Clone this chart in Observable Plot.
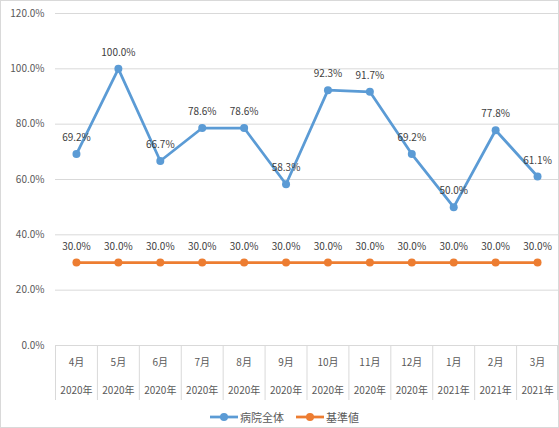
<!DOCTYPE html>
<html><head><meta charset="utf-8">
<script src="https://cdn.jsdelivr.net/npm/d3@7"></script>
<script src="https://cdn.jsdelivr.net/npm/@observablehq/plot@0.6"></script>
<style>
body{margin:0;background:#fff;}
#chart{width:559px;height:428px;box-sizing:border-box;border:1px solid #d9d9d9;font-family:"Noto Sans CJK JP","Noto Sans",sans-serif;overflow:hidden;background:#fff;}
#legend{display:flex;justify-content:center;align-items:center;height:20px;font-size:11px;color:#595959;padding-left:10px;}
.item{display:flex;align-items:center;margin:0 6px;}
.item svg{margin-right:2px;}
</style></head>
<body>
<div id="chart"></div>
<script>
const months = ["4月","5月","6月","7月","8月","9月","10月","11月","12月","1月","2月","3月"];
const years = ["2020年","2020年","2020年","2020年","2020年","2020年","2020年","2020年","2020年","2021年","2021年","2021年"];
const hospital = [69.2,100.0,66.7,78.6,78.6,58.3,92.3,91.7,69.2,50.0,77.8,61.1];
const standard = [30,30,30,30,30,30,30,30,30,30,30,30];
const yTicks = [0,20,40,60,80,100,120];
const seriesNames = ["病院全体","基準値"];
const colors = ["#5b9bd5","#ed7d31"];

const keys = months.map((m,i)=>m+"|"+years[i]);
const rows = [];
keys.forEach((k,i)=>{
  rows.push({key:k, series:seriesNames[0], value:hospital[i]});
  rows.push({key:k, series:seriesNames[1], value:standard[i]});
});
const W = 557, H = 406, ML = 54, MR = 0;
const bw = (W-ML-MR)/keys.length;
const fmt = d => d.toFixed(1)+"%";
const fontFam = '"Noto Sans CJK JP","Noto Sans",sans-serif';

const plot = Plot.plot({
  width: W, height: H,
  marginLeft: ML, marginRight: MR, marginTop: 12, marginBottom: H-344,
  style:{fontFamily:fontFam, fontSize:"10px", color:"#595959", background:"#fff"},
  x:{type:"band", domain:keys, padding:0, round:false, axis:null, label:null},
  y:{domain:[0,120], axis:null, label:null},
  color:{domain:seriesNames, range:colors},
  marks:[
    Plot.gridY(yTicks, {stroke:"#d9d9d9", strokeOpacity:1}),
    Plot.axisY(yTicks, {tickSize:0, tickPadding:11, tickFormat:fmt, fill:"#595959", fontSize:10, label:null}),
    Plot.axisX(keys, {anchor:"bottom", tickSize:55, tickFormat:()=>"", dx:-bw/2, stroke:"#d9d9d9", strokeOpacity:1, label:null}),
    Plot.axisX([keys[keys.length-1]], {anchor:"bottom", tickSize:55, tickFormat:()=>"", dx:bw/2-1, stroke:"#d9d9d9", strokeOpacity:1, label:null}),
    Plot.text(keys, {x:d=>d, y:()=>0, dy:17, text:(d,i)=>months[i], fill:"#595959", fontSize:10}),
    Plot.text(keys, {x:d=>d, y:()=>0, dy:45, text:(d,i)=>years[i], fill:"#595959", fontSize:10}),
    Plot.line(rows, {x:"key", y:"value", z:"series", stroke:"series", strokeWidth:2.75, strokeLinejoin:"round"}),
    Plot.dot(rows, {x:"key", y:"value", fill:"series", r:4, stroke:null}),
    Plot.text(rows, {x:"key", y:"value", text:d=>fmt(d.value), dy:-16, fill:"#404040", fontSize:10})
  ]
});
const chart = document.getElementById("chart");
chart.appendChild(plot);
const legend = document.createElement("div");
legend.id = "legend";
seriesNames.forEach((s,i)=>{
  const it = document.createElement("div");
  it.className = "item";
  it.innerHTML = `<svg width="28" height="10"><line x1="0" y1="5" x2="28" y2="5" stroke="${colors[i]}" stroke-width="2.75"/><circle cx="14" cy="5" r="4" fill="${colors[i]}"/></svg><span>${s}</span>`;
  legend.appendChild(it);
});
chart.appendChild(legend);
</script>
</body></html>
